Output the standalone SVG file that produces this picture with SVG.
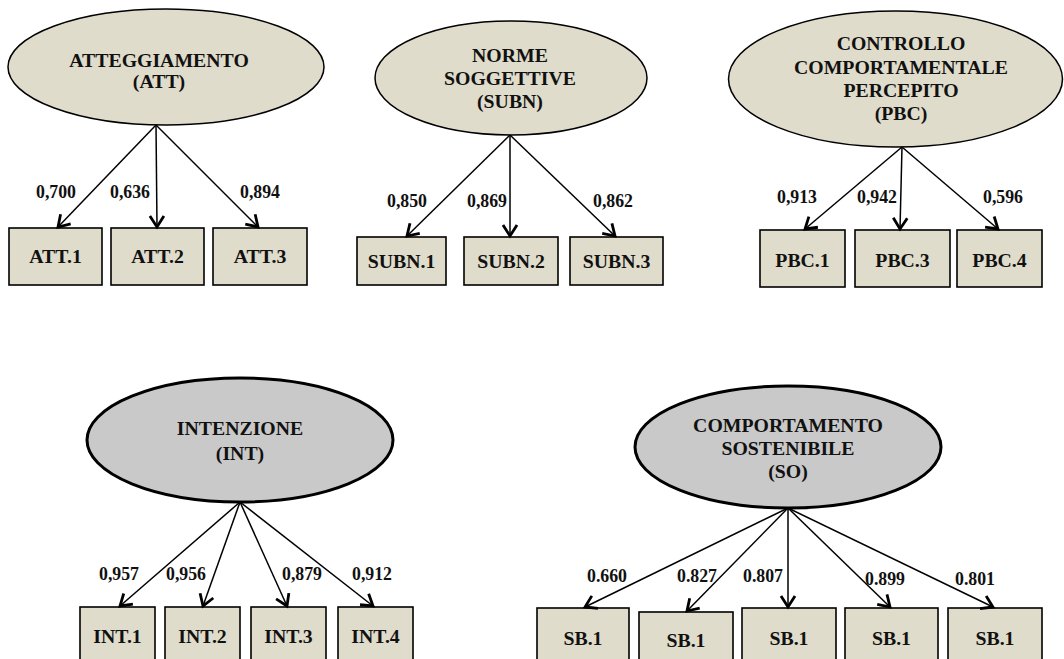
<svg xmlns="http://www.w3.org/2000/svg" width="1064" height="659" viewBox="0 0 1064 659">
  <defs>
    <marker id="arrow" markerUnits="userSpaceOnUse" markerWidth="18" markerHeight="18" viewBox="-13 -9 15 18" refX="0" refY="0" orient="auto">
      <path d="M-11,-7 L0,0 L-11,7" fill="none" stroke="#000" stroke-width="2.8" stroke-linejoin="miter"/>
    </marker>
  </defs>
  <style>
    text { font-family: "Liberation Serif", "Times New Roman", serif; font-weight: bold; fill: #111; text-anchor: middle; }
    .lat { fill: #e0dccb; stroke: #000; stroke-width: 1.5; }
    .latd { fill: #c9c9c9; stroke: #000; stroke-width: 3; }
    .ind { fill: #e0dccb; stroke: #000; stroke-width: 1.6; }
    .lt { font-size: 19.8px; }
    .it { font-size: 19.8px; }
    .ld { font-size: 17.8px; }
    .edge { stroke: #000; stroke-width: 1.5; fill: none; marker-end: url(#arrow); }
  </style>
  <rect width="1064" height="659" fill="#fff"/>

  <!-- latent constructs -->
  <g id="att">
    <ellipse class="lat" cx="166" cy="67" rx="158" ry="58"/>
    <text class="lt" x="159" y="67">ATTEGGIAMENTO</text>
    <text class="lt" x="159" y="88">(ATT)</text>
  </g>
  <g id="subn">
    <ellipse class="lat" cx="511" cy="78" rx="136" ry="57"/>
    <text class="lt" x="510" y="62">NORME</text>
    <text class="lt" x="510" y="85">SOGGETTIVE</text>
    <text class="lt" x="510" y="108">(SUBN)</text>
  </g>
  <g id="pbc">
    <ellipse class="lat" cx="895.5" cy="79" rx="167" ry="68"/>
    <text class="lt" x="901" y="50">CONTROLLO</text>
    <text class="lt" x="901" y="74">COMPORTAMENTALE</text>
    <text class="lt" x="901" y="97">PERCEPITO</text>
    <text class="lt" x="901" y="120">(PBC)</text>
  </g>
  <g id="int">
    <ellipse class="latd" cx="240" cy="440" rx="153" ry="62"/>
    <text class="lt" x="240" y="435">INTENZIONE</text>
    <text class="lt" x="240" y="460">(INT)</text>
  </g>
  <g id="so">
    <ellipse class="latd" cx="788" cy="447" rx="153" ry="61"/>
    <text class="lt" x="788" y="432">COMPORTAMENTO</text>
    <text class="lt" x="788" y="455">SOSTENIBILE</text>
    <text class="lt" x="788" y="478">(SO)</text>
  </g>

  <!-- indicators -->
  <g id="att1"><rect class="ind" x="9" y="228" width="93" height="57"/><text class="it" x="55.5" y="263">ATT.1</text></g>
  <g id="att2"><rect class="ind" x="111" y="228" width="93" height="57"/><text class="it" x="157.5" y="263">ATT.2</text></g>
  <g id="att3"><rect class="ind" x="213" y="228" width="94" height="57"/><text class="it" x="260" y="263">ATT.3</text></g>

  <g id="subn1"><rect class="ind" x="357" y="237" width="89" height="48"/><text class="it" x="401.5" y="268">SUBN.1</text></g>
  <g id="subn2"><rect class="ind" x="464" y="237" width="94" height="48"/><text class="it" x="511" y="268">SUBN.2</text></g>
  <g id="subn3"><rect class="ind" x="570" y="237" width="93" height="48"/><text class="it" x="616.5" y="268">SUBN.3</text></g>

  <g id="pbc1"><rect class="ind" x="760" y="230" width="85" height="57"/><text class="it" x="802.5" y="267">PBC.1</text></g>
  <g id="pbc3"><rect class="ind" x="855" y="230" width="95" height="57"/><text class="it" x="902.5" y="267">PBC.3</text></g>
  <g id="pbc4"><rect class="ind" x="957" y="230" width="85" height="57"/><text class="it" x="999.5" y="267">PBC.4</text></g>

  <g id="int1"><rect class="ind" x="80" y="607" width="75" height="62"/><text class="it" x="117.5" y="643">INT.1</text></g>
  <g id="int2"><rect class="ind" x="165" y="607" width="75" height="62"/><text class="it" x="202.5" y="643">INT.2</text></g>
  <g id="int3"><rect class="ind" x="251" y="607" width="75" height="62"/><text class="it" x="288.5" y="643">INT.3</text></g>
  <g id="int4"><rect class="ind" x="338" y="607" width="75" height="62"/><text class="it" x="375.5" y="643">INT.4</text></g>

  <g id="sb1a"><rect class="ind" x="537" y="608" width="92" height="62"/><text class="it" x="583" y="645">SB.1</text></g>
  <g id="sb1b"><rect class="ind" x="639" y="612" width="94" height="62"/><text class="it" x="686" y="647">SB.1</text></g>
  <g id="sb1c"><rect class="ind" x="742" y="608" width="94" height="62"/><text class="it" x="789" y="645">SB.1</text></g>
  <g id="sb1d"><rect class="ind" x="845" y="608" width="93" height="62"/><text class="it" x="891.5" y="645">SB.1</text></g>
  <g id="sb1e"><rect class="ind" x="948" y="608" width="94" height="62"/><text class="it" x="995" y="645">SB.1</text></g>

  <!-- loadings -->
  <g id="connectors">
    <line class="edge" x1="156" y1="125" x2="58" y2="227"/>
    <line class="edge" x1="156" y1="125" x2="157" y2="227"/>
    <line class="edge" x1="156" y1="125" x2="258" y2="227"/>

    <line class="edge" x1="510" y1="135" x2="407" y2="236"/>
    <line class="edge" x1="510" y1="135" x2="510" y2="236"/>
    <line class="edge" x1="510" y1="135" x2="615" y2="236"/>

    <line class="edge" x1="902" y1="147" x2="805" y2="229"/>
    <line class="edge" x1="902" y1="147" x2="900" y2="229"/>
    <line class="edge" x1="902" y1="147" x2="998" y2="229"/>

    <line class="edge" x1="240" y1="502" x2="120" y2="606"/>
    <line class="edge" x1="240" y1="502" x2="203" y2="606"/>
    <line class="edge" x1="240" y1="502" x2="287" y2="606"/>
    <line class="edge" x1="240" y1="502" x2="373" y2="606"/>

    <line class="edge" x1="788" y1="508" x2="585" y2="607"/>
    <line class="edge" x1="788" y1="508" x2="687" y2="611"/>
    <line class="edge" x1="788" y1="508" x2="788" y2="607"/>
    <line class="edge" x1="788" y1="508" x2="890" y2="607"/>
    <line class="edge" x1="788" y1="508" x2="993" y2="607"/>
  </g>

  <g id="loading-labels">
    <text class="ld" x="56" y="198">0,700</text>
    <text class="ld" x="130" y="198">0,636</text>
    <text class="ld" x="260" y="198">0,894</text>

    <text class="ld" x="407" y="207">0,850</text>
    <text class="ld" x="487" y="207">0,869</text>
    <text class="ld" x="613" y="207">0,862</text>

    <text class="ld" x="797" y="203">0,913</text>
    <text class="ld" x="877" y="203">0,942</text>
    <text class="ld" x="1003" y="203">0,596</text>

    <text class="ld" x="119" y="580">0,957</text>
    <text class="ld" x="186" y="580">0,956</text>
    <text class="ld" x="302" y="580">0,879</text>
    <text class="ld" x="372" y="580">0,912</text>

    <text class="ld" x="607" y="582">0.660</text>
    <text class="ld" x="697" y="582">0.827</text>
    <text class="ld" x="763" y="582">0.807</text>
    <text class="ld" x="885" y="585">0.899</text>
    <text class="ld" x="975" y="585">0.801</text>
  </g>
</svg>
